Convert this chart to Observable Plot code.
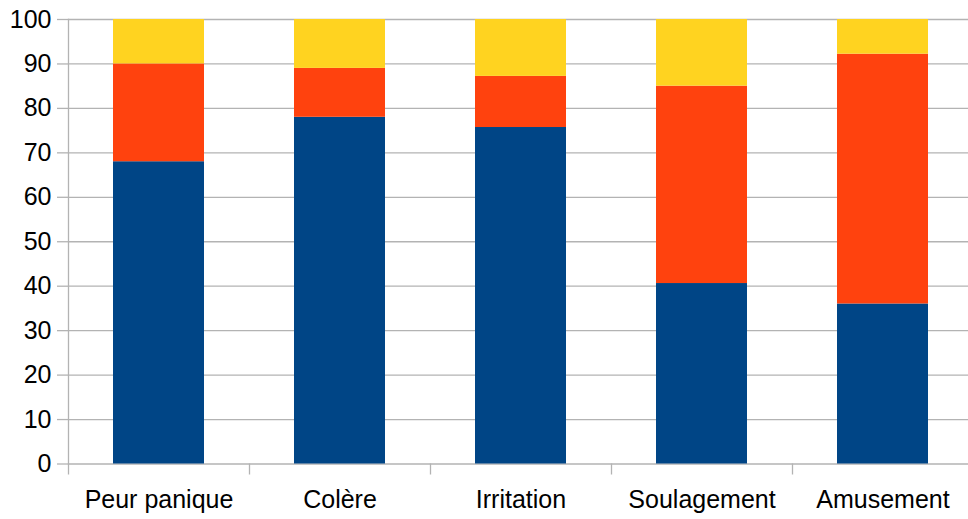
<!DOCTYPE html>
<html>
<head>
<meta charset="utf-8">
<script src="https://cdn.jsdelivr.net/npm/d3@7"></script>
<script src="https://cdn.jsdelivr.net/npm/@observablehq/plot@0.6"></script>
<style>
  html, body { margin: 0; padding: 0; background: #fff; }
  svg { display: block; }
</style>
</head>
<body>
<div id="chart"></div>
<script>
const categories = ["Peur panique", "Colère", "Irritation", "Soulagement", "Amusement"];
const seriesNames = ["Série 1", "Série 2", "Série 3"];
const series1 = [68, 78, 75.7, 40.6, 36];
const series2 = [22, 11, 11.5, 44.4, 56.2];
const series3 = [10, 11, 12.8, 15, 7.8];
const colors = ["#004586", "#ff420e", "#ffd320"];
const yTicks = [0, 10, 20, 30, 40, 50, 60, 70, 80, 90, 100];

const data = [];
const all = [series1, series2, series3];
categories.forEach((c, i) => {
  all.forEach((s, k) => data.push({category: c, series: seriesNames[k], value: s[i]}));
});

const W = 968, H = 519, ML = 68, MR = 0, MT = 19, MB = 55.5;
const bandRight = 973;
const bw = (bandRight - ML) / categories.length;

const chart = Plot.plot({
  width: W,
  height: H,
  marginLeft: ML,
  marginRight: MR,
  marginTop: MT,
  marginBottom: MB,
  style: {fontFamily: "'Liberation Sans', Arial, sans-serif", fontSize: "25px", color: "#000", background: "#fff"},
  x: {domain: categories, range: [ML, bandRight], paddingInner: 0.5, paddingOuter: 0.25, label: null},
  y: {domain: [0, 100], label: null},
  color: {domain: seriesNames, range: colors},
  marks: [
    Plot.ruleY(yTicks, {stroke: "#b3b3b3", strokeWidth: 1.3}),
    Plot.axisY({ticks: yTicks, tickSize: 11, tickPadding: 6, stroke: "#b3b3b3", strokeWidth: 1.3, fill: "#000", fontSize: 25, label: null}),
    Plot.frame({anchor: "left", stroke: "#b3b3b3", strokeWidth: 1.3}),
    Plot.axisX({tickSize: 11, dx: -bw / 2, text: null, stroke: "#b3b3b3", strokeWidth: 1.3}),
    Plot.axisX({tickSize: 0, tickPadding: 26, fill: "#000", fontSize: 25, label: null}),
    Plot.barY(data, Plot.stackY({x: "category", y: "value", fill: "series", order: seriesNames})),
  ]
});
document.getElementById("chart").appendChild(chart);
</script>
</body>
</html>
